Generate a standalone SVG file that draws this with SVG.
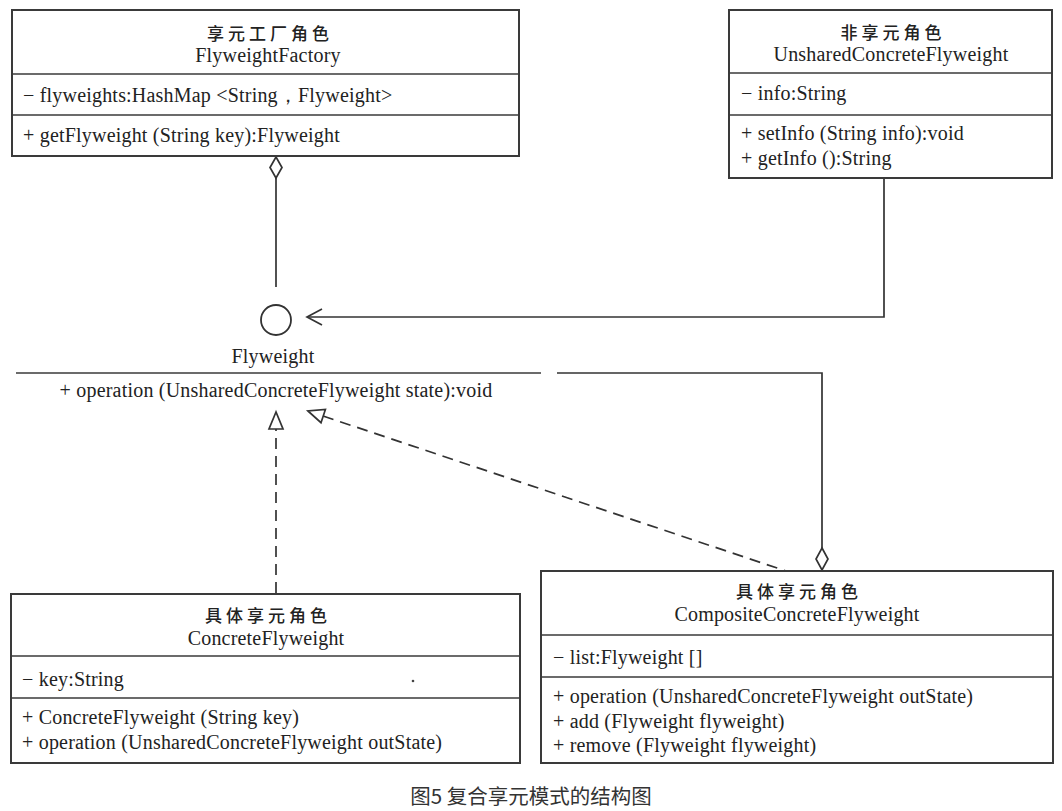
<svg xmlns="http://www.w3.org/2000/svg" width="1062" height="811" viewBox="0 0 1062 811">
<style>
.box{fill:#fff;stroke:#3a3a3a;stroke-width:2}
.div{stroke:#3a3a3a;stroke-width:1.6}
.t{font-family:"Liberation Serif","Times New Roman",serif;font-size:20px;letter-spacing:0.2px;fill:#222}
.c{text-anchor:middle}
.zh{font-family:"Noto Sans CJK SC","Noto Sans",sans-serif;font-size:17px;font-weight:500;fill:#222;letter-spacing:4px;text-anchor:middle}
.ln{fill:none;stroke:#333;stroke-width:1.7}
.dash{fill:none;stroke:#333;stroke-width:1.7;stroke-dasharray:11 7}
.hd{fill:#fff;stroke:#333;stroke-width:1.7}
.cap{font-family:"Noto Sans CJK SC","Noto Sans",sans-serif;font-size:20.5px;fill:#333;text-anchor:middle}
</style>
<rect width="1062" height="811" fill="#fff"/>

<g id="connectors">
  <line class="ln" x1="276" y1="178" x2="276" y2="287"/>
  <polygon class="hd" points="276,157 282,167.5 276,178 270,167.5"/>
  <polyline class="ln" points="884,178 884,317 308,317"/>
  <polyline class="ln" points="322,309 307,317 322,325"/>
  <line class="dash" x1="276" y1="593" x2="276" y2="429"/>
  <polygon class="hd" points="276,412 269,429 283,429"/>
  <line class="dash" x1="323" y1="416" x2="786" y2="571"/>
  <polygon class="hd" points="308,411 321,422.7 325.4,409.5"/>
  <polyline class="ln" points="557,373 822,373 822,548"/>
  <polygon class="hd" points="822,548 828,559 822,570 816,559"/>
</g>

<g id="FlyweightFactory">
  <rect class="box" x="12" y="10" width="507" height="146"/>
  <line class="div" x1="12" y1="74" x2="519" y2="74"/>
  <line class="div" x1="12" y1="115" x2="519" y2="115"/>
  <text class="zh" x="270" y="40">享元工厂角色</text>
  <text class="t c" x="268" y="62">FlyweightFactory</text>
  <text class="t" x="23" y="102">− flyweights:HashMap &lt;String，Flyweight&gt;</text>
  <text class="t" x="23" y="142">+ getFlyweight (String key):Flyweight</text>
</g>

<g id="UnsharedConcreteFlyweight">
  <rect class="box" x="729" y="10" width="323" height="168"/>
  <line class="div" x1="729" y1="73" x2="1052" y2="73"/>
  <line class="div" x1="729" y1="115" x2="1052" y2="115"/>
  <text class="zh" x="893" y="39">非享元角色</text>
  <text class="t c" x="891" y="61">UnsharedConcreteFlyweight</text>
  <text class="t" x="741" y="100">− info:String</text>
  <text class="t" x="741" y="140">+ setInfo (String info):void</text>
  <text class="t" x="741" y="165">+ getInfo ():String</text>
</g>

<g id="Flyweight">
  <circle cx="276" cy="320" r="15" fill="#fff" stroke="#333" stroke-width="1.8"/>
  <text class="t c" x="273" y="363">Flyweight</text>
  <line class="div" x1="16" y1="373" x2="541" y2="373"/>
  <text class="t c" x="276" y="397">+ operation (UnsharedConcreteFlyweight state):void</text>
</g>

<g id="ConcreteFlyweight">
  <rect class="box" x="11" y="594" width="509" height="169"/>
  <line class="div" x1="11" y1="656" x2="520" y2="656"/>
  <line class="div" x1="11" y1="698" x2="520" y2="698"/>
  <text class="zh" x="268" y="622">具体享元角色</text>
  <text class="t c" x="266" y="645">ConcreteFlyweight</text>
  <text class="t" x="22" y="686">− key:String</text>
  <circle cx="413" cy="681" r="1.3" fill="#444"/>
  <text class="t" x="22" y="724">+ ConcreteFlyweight (String key)</text>
  <text class="t" x="22" y="749">+ operation (UnsharedConcreteFlyweight outState)</text>
</g>

<g id="CompositeConcreteFlyweight">
  <rect class="box" x="541" y="571" width="512" height="192"/>
  <line class="div" x1="541" y1="635" x2="1053" y2="635"/>
  <line class="div" x1="541" y1="677" x2="1053" y2="677"/>
  <text class="zh" x="799" y="598">具体享元角色</text>
  <text class="t c" x="797" y="621">CompositeConcreteFlyweight</text>
  <text class="t" x="553" y="664">− list:Flyweight []</text>
  <text class="t" x="553" y="703">+ operation (UnsharedConcreteFlyweight outState)</text>
  <text class="t" x="553" y="728">+ add (Flyweight flyweight)</text>
  <text class="t" x="553" y="752">+ remove (Flyweight flyweight)</text>
</g>

<text class="cap" x="531" y="804">图5 复合享元模式的结构图</text>
</svg>
